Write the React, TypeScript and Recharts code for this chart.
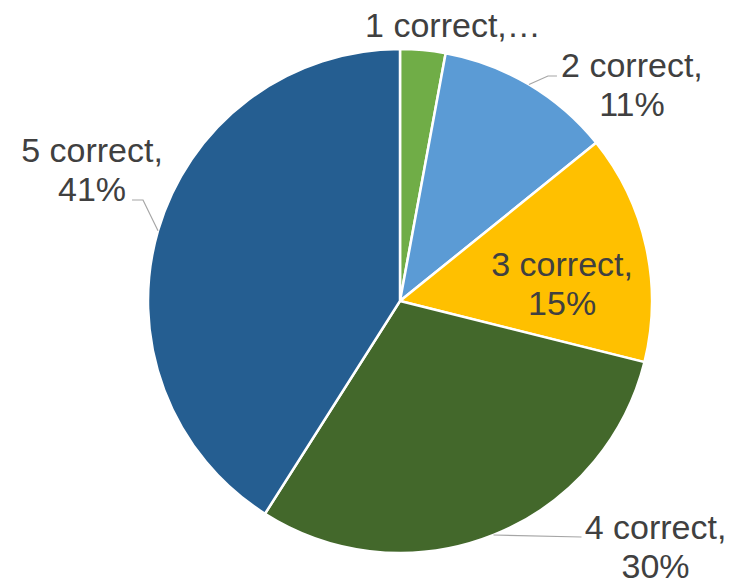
import { Cell, Pie, PieChart } from "recharts";

const categories = ["1 correct", "2 correct", "3 correct", "4 correct", "5 correct"];
const shares = [2.9, 11.3, 14.7, 30.1, 41.0];
const percentLabels = ["3%", "11%", "15%", "30%", "41%"];
const sliceColors = ["#70AD47", "#5B9BD5", "#FFC000", "#43682B", "#255E91"];

const RAD = Math.PI / 180;
const TEXT_COLOR = "#404040";
const LEADER_COLOR = "#A6A6A6";

// label layout relative to the point on the rim at the slice's mid angle
type LabelLayout = {
  dx: number; // text centre x
  dy: number; // first baseline
  truncated?: boolean;
  leader?: [number, number][];
};

const labelLayouts: LabelLayout[] = [
  { dx: 30, dy: -13, truncated: true },
  { dx: 103, dy: -7.5, leader: [[19, -8.5], [28, -8.5]] },
  { dx: -84, dy: 29 },
  { dx: 162, dy: 3.5, leader: [[88, 2]] },
  { dx: -66, dy: -68.7, leader: [[-15, -30.7], [-26, -30.7]] },
];

const data = categories.map((name, i) => ({
  name,
  value: shares[i],
  pct: percentLabels[i],
}));

function SliceLabel(props: any) {
  const { cx, cy, midAngle, outerRadius, index } = props;
  const layout = labelLayouts[index];
  const px = cx + outerRadius * Math.cos(-midAngle * RAD);
  const py = cy + outerRadius * Math.sin(-midAngle * RAD);
  const tx = px + layout.dx;
  const ty = py + layout.dy;
  const d = layout.leader
    ? `M${px},${py}` + layout.leader.map(([x, y]) => ` L${px + x},${py + y}`).join("")
    : null;

  return (
    <g>
      {d && <path d={d} stroke={LEADER_COLOR} strokeWidth={1.2} fill="none" />}
      {layout.truncated ? (
        <text x={tx} y={ty} textAnchor="middle" fill={TEXT_COLOR} fontSize={34}>
          {`${categories[index]},\u2026`}
        </text>
      ) : (
        <text x={tx} y={ty} textAnchor="middle" fill={TEXT_COLOR} fontSize={34}>
          <tspan x={tx} dy={0}>{`${categories[index]},`}</tspan>
          <tspan x={tx} dy={39}>{percentLabels[index]}</tspan>
        </text>
      )}
    </g>
  );
}

export default function App() {
  return (
    <div
      style={{
        position: "absolute",
        left: 0,
        top: 0,
        width: 744,
        height: 582,
        background: "#fff",
        fontFamily: "'Liberation Sans', Arial, sans-serif",
      }}
    >
      <PieChart width={744} height={582} margin={{ top: 0, right: 0, bottom: 0, left: 0 }}>
        <Pie
          data={data}
          dataKey="value"
          nameKey="name"
          cx={400}
          cy={301}
          outerRadius={252}
          startAngle={90}
          endAngle={-270}
          stroke="#ffffff"
          strokeWidth={2.5}
          label={SliceLabel}
          labelLine={false}
          isAnimationActive={false}
        >
          {data.map((d, i) => (
            <Cell key={d.name} fill={sliceColors[i]} />
          ))}
        </Pie>
      </PieChart>
    </div>
  );
}
